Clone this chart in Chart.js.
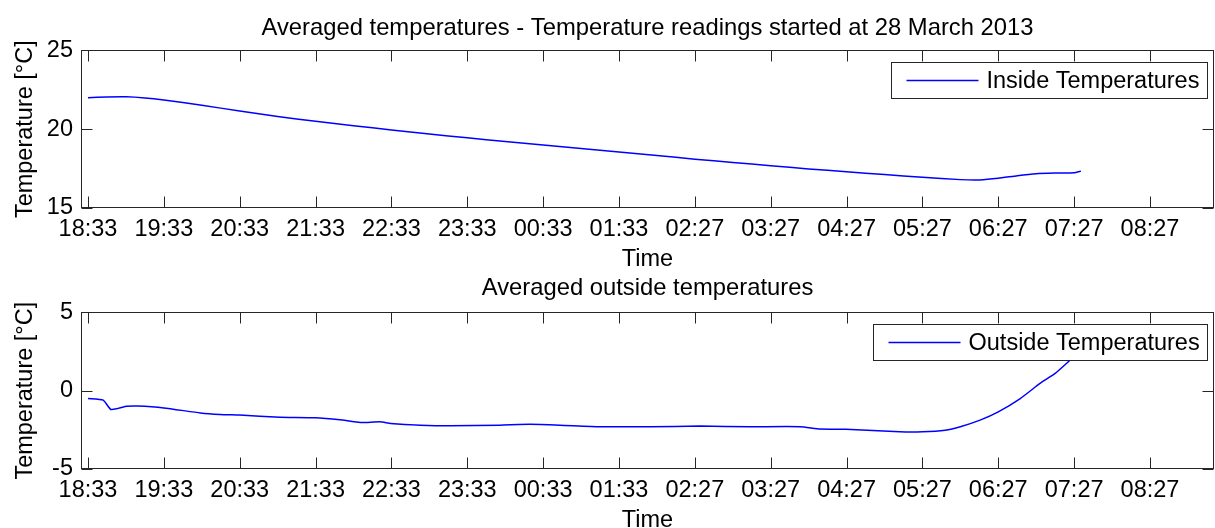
<!DOCTYPE html>
<html>
<head>
<meta charset="utf-8">
<script src="https://cdn.jsdelivr.net/npm/chart.js@4.4.1/dist/chart.umd.min.js"></script>
<style>
  body { margin: 0; background: #fff; }
  canvas { position: absolute; left: 0; }
  #topChart { top: 0; }
  #bottomChart { top: 270px; }
</style>
</head>
<body>
<canvas id="topChart" width="1215" height="270"></canvas>
<canvas id="bottomChart" width="1215" height="258"></canvas>
<script>
// tick labels along the time axis (one per hour step)
const tickLabels = ["18:33", "19:33", "20:33", "21:33", "22:33", "23:33", "00:33", "01:33",
                    "02:27", "03:27", "04:27", "05:27", "06:27", "07:27", "08:27"];

// hours since start of readings
const insideHours = [0, 0.25, 0.5, 0.75, 1, 1.5, 2, 2.5, 3, 3.5, 4, 4.5, 5, 5.5, 6, 6.5, 7, 7.5,
                     8, 8.5, 9, 9.5, 10, 10.5, 11, 11.5, 11.75, 12, 12.25, 12.5, 12.75, 13, 13.09];
const insideTemps = [22.0, 22.04, 22.05, 21.98, 21.85, 21.52, 21.15, 20.8, 20.5, 20.22, 19.95, 19.7,
                     19.45, 19.22, 18.99, 18.78, 18.56, 18.33, 18.1, 17.89, 17.68, 17.48, 17.3, 17.12,
                     16.95, 16.8, 16.78, 16.88, 17.05, 17.18, 17.22, 17.24, 17.34];

const outsideHours = [0, 0.2, 0.3, 0.4, 0.51, 0.65, 1, 1.48, 1.74, 2, 2.53, 2.99, 3.32, 3.59, 3.85,
                      3.99, 4.38, 4.77, 5.43, 5.83, 6.22, 6.75, 7.41, 8.07, 8.73, 9.39, 9.65, 9.99,
                      10.7, 11.0, 11.3, 11.5, 11.76, 12.0, 12.29, 12.55, 12.75, 12.92, 13.09];
const outsideTemps = [-0.5, -0.6, -1.2, -1.13, -1.0, -0.98, -1.1, -1.42, -1.52, -1.56, -1.69, -1.73,
                      -1.86, -2.03, -1.99, -2.09, -2.2, -2.24, -2.2, -2.15, -2.2, -2.3, -2.3, -2.26,
                      -2.3, -2.3, -2.45, -2.47, -2.62, -2.62, -2.52, -2.3, -1.88, -1.35, -0.5, 0.46,
                      1.1, 1.83, 2.6];

const FS = 23.5;
const FONT = { family: '"Liberation Sans", Arial, sans-serif', size: FS, weight: 'normal' };
Chart.defaults.font.family = FONT.family;
Chart.defaults.color = '#000';

// box + inward tick marks, matlab style
const matlabAxes = {
  id: 'matlabAxes',
  afterDatasetsDraw(chart) {
    const { ctx, chartArea: a, scales: { x, y } } = chart;
    const L = Math.round(a.left) + 0.5, R = Math.round(a.right) - 0.5;
    const T = Math.round(a.top) + 0.5, B = Math.round(a.bottom) - 0.5;
    ctx.save();
    ctx.strokeStyle = '#262626';
    ctx.lineWidth = 1;
    ctx.strokeRect(L, T, R - L, B - T);
    ctx.beginPath();
    x.ticks.forEach(t => {
      const px = Math.round(x.getPixelForValue(t.value)) + 0.5;
      ctx.moveTo(px, B); ctx.lineTo(px, B - 11);
      ctx.moveTo(px, T); ctx.lineTo(px, T + 11);
    });
    y.ticks.forEach(t => {
      const py = Math.round(y.getPixelForValue(t.value)) + 0.5;
      ctx.moveTo(L, py); ctx.lineTo(L + 11, py);
      ctx.moveTo(R, py); ctx.lineTo(R - 11, py);
    });
    ctx.stroke();
    ctx.restore();
  }
};

// legend box in the top right corner of the plot area
const boxLegend = {
  id: 'boxLegend',
  afterDraw(chart) {
    const ds = chart.data.datasets[0];
    const { ctx, chartArea: a } = chart;
    ctx.save();
    ctx.font = FS + 'px ' + FONT.family;
    const tw = ctx.measureText(ds.label).width;
    const w = Math.round(15 + 72 + 8 + tw + 8), h = 36;
    const x0 = Math.round(a.right - 7 - w) + 0.5, y0 = Math.round(a.top + 12) + 0.5;
    ctx.fillStyle = '#fff';
    ctx.fillRect(x0, y0, w, h);
    ctx.strokeStyle = '#262626';
    ctx.lineWidth = 1;
    ctx.strokeRect(x0, y0, w, h);
    ctx.strokeStyle = ds.borderColor;
    ctx.lineWidth = ds.borderWidth;
    ctx.beginPath();
    ctx.moveTo(x0 + 15, y0 + h / 2);
    ctx.lineTo(x0 + 87, y0 + h / 2);
    ctx.stroke();
    ctx.fillStyle = '#000';
    ctx.textBaseline = 'middle';
    ctx.fillText(ds.label, x0 + 95, y0 + h / 2 + 1);
    ctx.restore();
  }
};

function makeChart(id, cfg) {
  const pts = cfg.hours.map((h, i) => ({ x: h, y: cfg.temps[i] }));
  return new Chart(document.getElementById(id), {
    type: 'line',
    data: {
      datasets: [{
        label: cfg.label,
        data: pts,
        borderColor: '#0000ff',
        borderWidth: 1.5,
        pointRadius: 0,
        tension: 0.15
      }]
    },
    options: {
      responsive: false,
      animation: false,
      layout: { padding: { left: 0, right: 1, top: 0, bottom: 0 } },
      plugins: {
        legend: { display: false },
        tooltip: { enabled: false },
        title: {
          display: true,
          fullSize: false,
          text: cfg.title,
          font: { family: FONT.family, size: 23.8, weight: 'normal' },
          color: '#000',
          padding: cfg.titlePad
        }
      },
      scales: {
        x: {
          type: 'linear',
          min: -0.0923,
          max: 14.844,
          afterBuildTicks: s => { s.ticks = tickLabels.map((_, i) => ({ value: i })); },
          afterFit: s => { s.height = cfg.xHeight; },
          grid: { display: false, drawTicks: false },
          border: { display: false },
          ticks: {
            font: FONT,
            color: '#000',
            padding: 7,
            maxRotation: 0,
            autoSkip: false,
            callback: v => tickLabels[v]
          },
          title: {
            display: true,
            text: 'Time',
            font: { family: FONT.family, size: FS, lineHeight: cfg.timeLH },
            color: '#000',
            padding: { top: 0, bottom: cfg.timePad }
          }
        },
        y: {
          min: cfg.yMin,
          max: cfg.yMax,
          afterFit: s => { s.width = 81; },
          grid: { display: false, drawTicks: false },
          border: { display: false },
          ticks: { font: FONT, color: '#000', padding: 8, stepSize: 5 },
          title: {
            display: true,
            text: 'Temperature [°C]',
            font: FONT,
            color: '#000',
            padding: { top: 11, bottom: 0 }
          }
        }
      }
    },
    plugins: [matlabAxes, boxLegend]
  });
}

makeChart('topChart', {
  hours: insideHours,
  temps: insideTemps,
  label: 'Inside Temperatures',
  title: 'Averaged temperatures - Temperature readings started at 28 March 2013',
  titlePad: { top: 13.9, bottom: 7.9 },
  xHeight: 62,
  timeLH: 0.9,
  timePad: 0,
  yMin: 15,
  yMax: 25
});

makeChart('bottomChart', {
  hours: outsideHours,
  temps: outsideTemps,
  label: 'Outside Temperatures',
  title: 'Averaged outside temperatures',
  titlePad: { top: 3.9, bottom: 9.9 },
  xHeight: 59,
  timeLH: 0.6,
  timePad: 0,
  yMin: -5,
  yMax: 5
});
</script>
</body>
</html>
